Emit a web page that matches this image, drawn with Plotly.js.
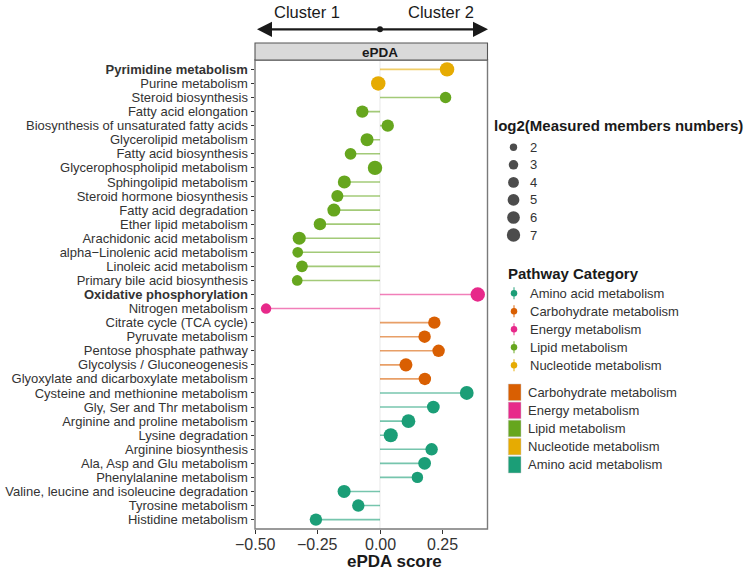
<!DOCTYPE html>
<html><head><meta charset="utf-8">
<script src="https://cdn.plot.ly/plotly-3.0.1.min.js"></script>
<style>html,body{margin:0;padding:0;background:#fff}#chart{width:750px;height:579px}</style>
</head><body><div id="chart"></div>
<script>
// ---------------- data ----------------
const categories = [
  "Pyrimidine metabolism","Purine metabolism","Steroid biosynthesis","Fatty acid elongation",
  "Biosynthesis of unsaturated fatty acids","Glycerolipid metabolism","Fatty acid biosynthesis",
  "Glycerophospholipid metabolism","Sphingolipid metabolism","Steroid hormone biosynthesis",
  "Fatty acid degradation","Ether lipid metabolism","Arachidonic acid metabolism",
  "alpha\u2212Linolenic acid metabolism","Linoleic acid metabolism","Primary bile acid biosynthesis",
  "Oxidative phosphorylation","Nitrogen metabolism","Citrate cycle (TCA cycle)","Pyruvate metabolism",
  "Pentose phosphate pathway","Glycolysis / Gluconeogenesis","Glyoxylate and dicarboxylate metabolism",
  "Cysteine and methionine metabolism","Gly, Ser and Thr metabolism","Arginine and proline metabolism",
  "Lysine degradation","Arginine biosynthesis","Ala, Asp and Glu metabolism","Phenylalanine metabolism",
  "Valine, leucine and isoleucine degradation","Tyrosine metabolism","Histidine metabolism"
];
const scores = [
  0.269,-0.007,0.263,-0.071,0.031,-0.052,-0.118,-0.020,-0.143,-0.171,-0.185,-0.241,-0.324,
  -0.330,-0.313,-0.332,0.392,-0.457,0.218,0.179,0.235,0.104,0.180,0.348,0.214,0.114,0.043,
  0.207,0.179,0.150,-0.144,-0.087,-0.257
];
const log2Members = [
  8.5,8.5,4.6,5.7,5.7,6.5,4.9,8.5,6.5,5.3,6.5,5.7,6.5,3.9,4.9,3.9,8.5,3.7,5.7,5.7,5.7,6.5,5.7,
  7.5,6.1,7.5,7.9,5.7,6.1,4.6,6.5,5.7,5.7
];
const pathwayGroup = [
  "Nucleotide metabolism","Nucleotide metabolism",
  "Lipid metabolism","Lipid metabolism","Lipid metabolism","Lipid metabolism","Lipid metabolism",
  "Lipid metabolism","Lipid metabolism","Lipid metabolism","Lipid metabolism","Lipid metabolism",
  "Lipid metabolism","Lipid metabolism","Lipid metabolism","Lipid metabolism",
  "Energy metabolism","Energy metabolism",
  "Carbohydrate metabolism","Carbohydrate metabolism","Carbohydrate metabolism","Carbohydrate metabolism","Carbohydrate metabolism",
  "Amino acid metabolism","Amino acid metabolism","Amino acid metabolism","Amino acid metabolism","Amino acid metabolism",
  "Amino acid metabolism","Amino acid metabolism","Amino acid metabolism","Amino acid metabolism","Amino acid metabolism"
];
const boldCategories = ["Pyrimidine metabolism","Oxidative phosphorylation"];
const xTickValues = [-0.5,-0.25,0,0.25];
const xTickLabels = ["\u22120.50","\u22120.25","0.00","0.25"];
const groupNames = ["Amino acid metabolism","Carbohydrate metabolism","Energy metabolism","Lipid metabolism","Nucleotide metabolism"];
const groupColors = ["#1B9E77","#D95F02","#E7298A","#66A61E","#E6AB02"];
const fillLegendNames = ["Carbohydrate metabolism","Energy metabolism","Lipid metabolism","Nucleotide metabolism","Amino acid metabolism"];
const sizeBreaks = [2,3,4,5,6,7];
const stripLabel = "ePDA";
const clusterLabels = ["Cluster 1","Cluster 2"];
const xTitle = "ePDA score";
const sizeTitle = "log2(Measured members numbers)";
const colorTitle = "Pathway Category";

// ---------------- helpers / layout constants ----------------
const W = 750, H = 579;
const FONT = "Liberation Sans, Arial, Helvetica, sans-serif";
const panel = {l: 255, r: 487.5, t: 60, b: 529};
const colorOf = g => groupColors[groupNames.indexOf(g)];
function rgba(hex, a){const n=parseInt(hex.slice(1),16);return `rgba(${n>>16},${(n>>8)&255},${n&255},${a})`;}
const sizeOf = v => 5.9 + 3.3*Math.sqrt(Math.max(v-1.8,0));
const n = categories.length;
const idx = categories.map((_,i)=>i);

const traces = [];
// segments by group
groupNames.forEach((g,gi)=>{
  const xs=[], ys=[];
  categories.forEach((c,i)=>{ if(pathwayGroup[i]===g){ xs.push(0,scores[i],null); ys.push(i,i,null);} });
  traces.push({type:'scatter',mode:'lines',x:xs,y:ys,xaxis:'x',yaxis:'y',
    line:{color:rgba(groupColors[gi],0.6),width:1.6},hoverinfo:'skip',showlegend:false});
});
// points
traces.push({type:'scatter',mode:'markers',x:scores,y:idx,xaxis:'x',yaxis:'y',
  marker:{color:pathwayGroup.map(colorOf),size:log2Members.map(sizeOf),line:{width:0},opacity:1},
  hoverinfo:'skip',showlegend:false,cliponaxis:false});

// size legend (aux pixel axes)
const sizeLeg = {x:513.5, y0:147.3, dy:17.55, labelX:527.5, titleX:492, titleY:125};
traces.push({type:'scatter',mode:'markers',xaxis:'x2',yaxis:'y2',
  x:sizeBreaks.map(()=>sizeLeg.x), y:sizeBreaks.map((_,i)=>sizeLeg.y0+i*sizeLeg.dy),
  marker:{color:'#000',size:sizeBreaks.map(sizeOf),line:{width:0}},hoverinfo:'skip',showlegend:false});

// colour legend (point + line keys)
const colLeg = {x:514, y0:293.3, dy:18, labelX:528, titleX:506, titleY:273.3, half:6};
groupNames.forEach((g,gi)=>{
  const cy = colLeg.y0 + gi*colLeg.dy;
  traces.push({type:'scatter',mode:'lines',xaxis:'x2',yaxis:'y2',x:[colLeg.x,colLeg.x],y:[cy-colLeg.half,cy+colLeg.half],
    line:{color:rgba(groupColors[gi],0.6),width:1.6},hoverinfo:'skip',showlegend:false});
  traces.push({type:'scatter',mode:'markers',xaxis:'x2',yaxis:'y2',x:[colLeg.x],y:[cy],
    marker:{color:groupColors[gi],size:6.5,line:{width:0}},hoverinfo:'skip',showlegend:false});
});

const shapes = [];
const annotations = [];
const txt = (text,x,y,opt={}) => annotations.push(Object.assign({text,x,y,xref:'x2',yref:'y2',showarrow:false,
  xanchor:'left',yanchor:'middle',font:{family:FONT,size:13,color:'#333'}},opt));

// fill legend (squares)
const fillLeg = {x0:508.3, x1:521, y0:392.3, dy:18.1, half:8.3, labelX:526};
fillLegendNames.forEach((g,i)=>{
  const cy = fillLeg.y0 + i*fillLeg.dy;
  shapes.push({type:'rect',xref:'x2',yref:'y2',x0:fillLeg.x0,x1:fillLeg.x1,y0:cy-fillLeg.half,y1:cy+fillLeg.half,
    fillcolor:colorOf(g),line:{width:0.6,color:'rgba(200,200,200,0.8)'},layer:'above'});
  txt(g,fillLeg.labelX,cy);
});

// zero reference line
shapes.push({type:'line',xref:'x',yref:'y domain',x0:0,x1:0,y0:0,y1:1,line:{color:'#ececec',width:1.2},layer:'below'});
// panel border
shapes.push({type:'rect',xref:'x2',yref:'y2',x0:panel.l,x1:panel.r,y0:panel.t,y1:panel.b,line:{color:'#7a7a7a',width:1.4},fillcolor:'rgba(0,0,0,0)',layer:'above'});
// strip
shapes.push({type:'rect',xref:'x2',yref:'y2',x0:panel.l,x1:panel.r,y0:43,y1:panel.t,line:{color:'#555',width:1.1},fillcolor:'#d9d9d9',layer:'above'});
// cluster arrow
const ay = 29.3, aL = 257, aR = 488, aHead = 15, aHalf = 7.6;
shapes.push({type:'line',xref:'x2',yref:'y2',x0:aL+aHead-2,x1:aR-aHead+2,y0:ay,y1:ay,line:{color:'#1a1a1a',width:2.2}});
shapes.push({type:'path',xref:'x2',yref:'y2',path:`M${aL},${ay} L${aL+aHead},${ay-aHalf} L${aL+aHead},${ay+aHalf} Z`,fillcolor:'#1a1a1a',line:{width:0}});
shapes.push({type:'path',xref:'x2',yref:'y2',path:`M${aR},${ay} L${aR-aHead},${ay-aHalf} L${aR-aHead},${ay+aHalf} Z`,fillcolor:'#1a1a1a',line:{width:0}});
shapes.push({type:'circle',xref:'x2',yref:'y2',x0:377,x1:383,y0:ay-3,y1:ay+3,fillcolor:'#1a1a1a',line:{width:0}});

// texts
txt(clusterLabels[0],306.7,11.7,{xanchor:'center',font:{family:FONT,size:16.5,color:'#1a1a1a'}});
txt(clusterLabels[1],441.3,11.7,{xanchor:'center',font:{family:FONT,size:16.5,color:'#1a1a1a'}});
txt('<b>'+stripLabel+'</b>',380,52,{xanchor:'center',font:{family:FONT,size:13.5,color:'#1a1a1a'}});
txt('<b>'+xTitle+'</b>',394,561,{xanchor:'center',font:{family:FONT,size:17,color:'#1a1a1a'}});
txt('<b>'+sizeTitle+'</b>',sizeLeg.titleX,sizeLeg.titleY,{font:{family:FONT,size:15,color:'#1a1a1a'}});
sizeBreaks.forEach((v,i)=>txt(String(v),sizeLeg.labelX,sizeLeg.y0+i*sizeLeg.dy));
txt('<b>'+colorTitle+'</b>',colLeg.titleX,colLeg.titleY,{font:{family:FONT,size:15,color:'#1a1a1a'}});
groupNames.forEach((g,i)=>txt(g,colLeg.labelX,colLeg.y0+i*colLeg.dy));
// x tick labels placed at axis values
xTickValues.forEach((v,i)=>annotations.push({text:xTickLabels[i],x:v,y:544,xref:'x',yref:'y2',showarrow:false,
  xanchor:'center',yanchor:'middle',font:{family:FONT,size:16,color:'#333'}}));

// axis ranges from pixel geometry
const xScale = 249.3, x0px = 380;
const xRange = [(panel.l - x0px)/xScale, (panel.r - x0px)/xScale];
const rowPad = 0.667;

const layout = {
  width:W, height:H, margin:{l:0,r:0,t:0,b:0,pad:0},
  paper_bgcolor:'#fff', plot_bgcolor:'rgba(0,0,0,0)',
  font:{family:FONT,color:'#333'},
  showlegend:false,
  xaxis:{domain:[panel.l/W, panel.r/W], range:xRange, anchor:'y', showgrid:false, zeroline:false, showline:false,
    tickmode:'array', tickvals:xTickValues, ticktext:xTickLabels, showticklabels:false, ticks:'outside', ticklen:3.5, tickwidth:1, tickcolor:'#333',
    automargin:false, fixedrange:true},
  yaxis:{domain:[1-panel.b/H, 1-panel.t/H], range:[n-1+rowPad, -rowPad], anchor:'x', showgrid:false, zeroline:false, showline:false,
    tickmode:'array', tickvals:idx, ticktext:categories.map(c=>boldCategories.includes(c)?'<b>'+c+'</b>':c),
    ticks:'outside', ticklen:3.5, tickwidth:1, tickcolor:'#333',
    tickfont:{family:FONT,size:13,color:'#333'}, automargin:false, fixedrange:true},
  xaxis2:{domain:[0,1], range:[0,W], anchor:'y2', visible:false, fixedrange:true},
  yaxis2:{domain:[0,1], range:[H,0], anchor:'x2', visible:false, fixedrange:true},
  shapes, annotations
};
Plotly.newPlot('chart', traces, layout, {staticPlot:true, displayModeBar:false});
</script></body></html>
